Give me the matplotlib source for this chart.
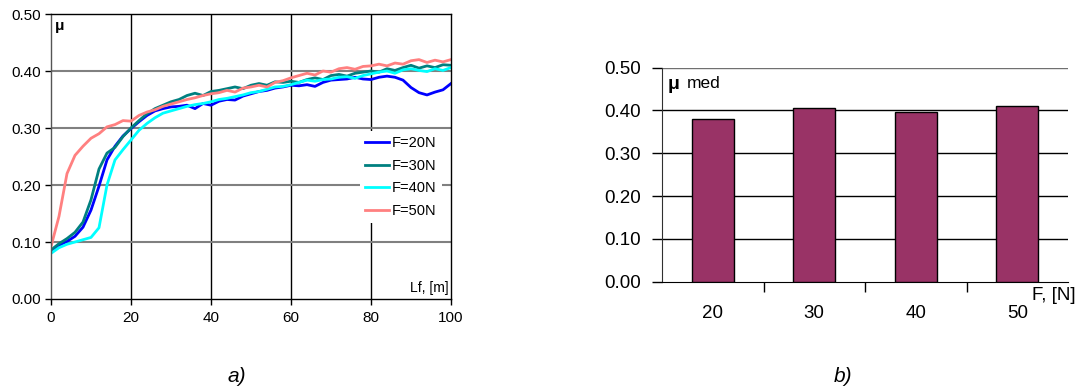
import numpy as np
import matplotlib.pyplot as plt

plt.rcParams['font.family'] = ['Liberation Sans', 'DejaVu Sans']

# sliding distance, m
Lf = np.arange(0, 101, 2)

mu_20 = [0.085, 0.094, 0.101, 0.110, 0.126, 0.156, 0.198, 0.244, 0.268, 0.286,
         0.299, 0.311, 0.322, 0.330, 0.334, 0.337, 0.338, 0.340, 0.334, 0.343,
         0.340, 0.347, 0.350, 0.349, 0.356, 0.360, 0.364, 0.366, 0.370, 0.372,
         0.375, 0.374, 0.376, 0.373, 0.380, 0.384, 0.385, 0.386, 0.389, 0.386,
         0.385, 0.389, 0.391, 0.389, 0.384, 0.371, 0.362, 0.358, 0.363, 0.367,
         0.378]
mu_30 = [0.086, 0.097, 0.106, 0.117, 0.135, 0.174, 0.228, 0.256, 0.266, 0.285,
         0.300, 0.313, 0.325, 0.334, 0.340, 0.346, 0.350, 0.357, 0.361, 0.357,
         0.364, 0.366, 0.369, 0.372, 0.369, 0.375, 0.378, 0.375, 0.381, 0.380,
         0.382, 0.380, 0.385, 0.388, 0.385, 0.392, 0.394, 0.391, 0.396, 0.398,
         0.400, 0.398, 0.404, 0.401, 0.406, 0.410, 0.405, 0.409, 0.406, 0.411,
         0.410]
mu_40 = [0.080, 0.090, 0.096, 0.100, 0.104, 0.108, 0.125, 0.200, 0.244, 0.262,
         0.279, 0.296, 0.308, 0.318, 0.326, 0.330, 0.334, 0.338, 0.341, 0.343,
         0.346, 0.350, 0.352, 0.355, 0.358, 0.362, 0.364, 0.368, 0.372, 0.373,
         0.376, 0.380, 0.384, 0.382, 0.385, 0.386, 0.389, 0.390, 0.387, 0.392,
         0.395, 0.398, 0.400, 0.396, 0.402, 0.404, 0.401, 0.399, 0.404, 0.401,
         0.406]
mu_50 = [0.092, 0.145, 0.220, 0.252, 0.268, 0.282, 0.290, 0.302, 0.306, 0.313,
         0.312, 0.322, 0.328, 0.332, 0.338, 0.342, 0.346, 0.350, 0.353, 0.357,
         0.360, 0.362, 0.366, 0.363, 0.370, 0.372, 0.375, 0.372, 0.380, 0.383,
         0.388, 0.392, 0.396, 0.393, 0.400, 0.398, 0.404, 0.406, 0.403, 0.408,
         0.409, 0.412, 0.409, 0.414, 0.412, 0.418, 0.420, 0.415, 0.419, 0.416,
         0.420]

series = [('F=20N', mu_20, '#0000ff'),
          ('F=30N', mu_30, '#008080'),
          ('F=40N', mu_40, '#00ffff'),
          ('F=50N', mu_50, '#ff8080')]

# mean friction coefficient per load
loads = ['20', '30', '40', '50']
mu_med = [0.379, 0.405, 0.396, 0.411]

fig = plt.figure(figsize=(10.81, 3.90), dpi=100)

# --- a) friction coefficient vs sliding distance
ax1 = fig.add_axes([51 / 1081, 1 - 299 / 390, 400 / 1081, 285 / 390])
for label, mu, color in series:
    ax1.plot(Lf, mu, color=color, lw=2, label=label)
ax1.set_xlim(0, 100)
ax1.set_ylim(0, 0.5)
ax1.set_xticks(range(0, 101, 20))
ax1.set_yticks(np.arange(0, 0.51, 0.1))
ax1.set_yticklabels([f'{v:.2f}' for v in np.arange(0, 0.51, 0.1)])
for x in (20, 40, 60, 80):
    ax1.axvline(x, color='black', lw=1, zorder=0.5)
for y in (0.1, 0.2, 0.3, 0.4):
    ax1.axhline(y, color='#808080', lw=1.5, zorder=0.5)
for s in ax1.spines.values():
    s.set_color('black')
    s.set_linewidth(1)
ax1.spines['left'].set_color('#555555')
ax1.tick_params(labelsize=11, length=4, width=1, pad=3)
ax1.tick_params(axis='x', pad=5)
ax1.text(1.0, 0.472, 'μ', fontsize=11, fontweight='bold', va='baseline')
ax1.text(99.5, 0.02, 'Lf, [m]', fontsize=10, ha='right', va='center')
leg = ax1.legend(loc='center right', bbox_to_anchor=(0.995, 0.428), frameon=True,
                 fontsize=10.5, handlelength=1.65, handletextpad=0.2,
                 labelspacing=0.6, borderpad=0.35)
leg.get_frame().set_edgecolor('none')
leg.get_frame().set_facecolor('white')
leg.get_frame().set_alpha(1)
fig.text(237 / 1081, 1 - 377 / 390, 'a)', fontsize=15, style='italic',
         ha='center', va='center')

# --- b) mean friction coefficient per load
ax2 = fig.add_axes([662 / 1081, 1 - 281.7 / 390, 406 / 1081, 214 / 390])
pos = np.arange(len(loads))
ax2.bar(pos, mu_med, width=0.41, color='#993366', edgecolor='black', lw=1,
        zorder=3)
ax2.set_xlim(-0.5, 3.5)
ax2.set_ylim(0, 0.5)
ax2.set_yticks(np.arange(0, 0.51, 0.1))
ax2.set_yticklabels([f'{v:.2f}' for v in np.arange(0, 0.51, 0.1)])
for y in (0.1, 0.2, 0.3, 0.4, 0.5):
    ax2.axhline(y, color='black' if y < 0.45 else '#707070', lw=1, zorder=1)
ax2.set_xticks(pos[:-1] + 0.5)
ax2.set_xticklabels([])
ax2.set_xticks(pos, minor=True)
ax2.set_xticklabels(loads, minor=True)
ax2.tick_params(axis='x', which='major', length=7, width=1, direction='out')
ax2.tick_params(axis='x', which='minor', length=0, labelsize=13.5, pad=17)
ax2.tick_params(axis='y', length=7, width=1, labelsize=13.5, pad=8)
ax2.spines['top'].set_visible(False)
ax2.spines['right'].set_visible(False)
ax2.spines['left'].set_color('#303030')
ax2.text(-0.441, 0.451, 'μ', fontsize=14, fontweight='bold', va='baseline')
ax2.text(-0.254, 0.452, 'med', fontsize=12.5, va='baseline')
ax2.text(3.357, -0.033, 'F, [N]', fontsize=13.5, ha='center', va='center',
         clip_on=False)
fig.text(843 / 1081, 1 - 377 / 390, 'b)', fontsize=15, style='italic',
         ha='center', va='center')

fig.savefig('out.png', dpi=100)
